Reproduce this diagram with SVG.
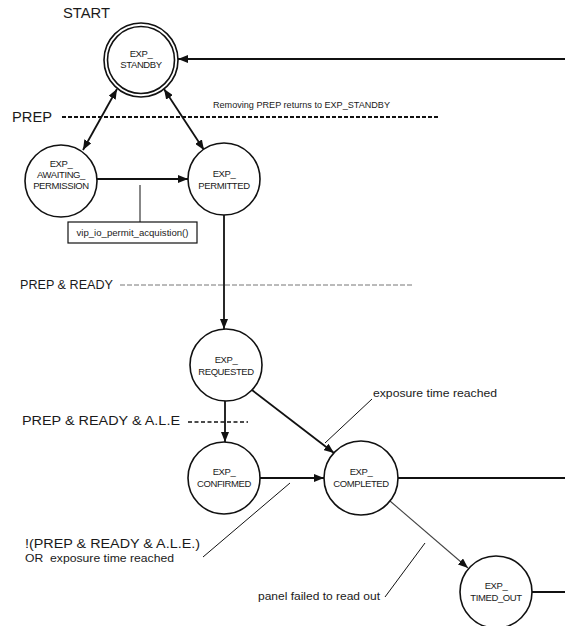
<svg xmlns="http://www.w3.org/2000/svg" width="565" height="626" viewBox="0 0 565 626">
<style>
text{font-family:"Liberation Sans",Arial,sans-serif;fill:#1a1a1a}
.lbl{font-size:12.5px}
.big{font-size:14px}
.sm{font-size:10px}
.node circle{fill:#fff;stroke:#111;stroke-width:1.6}
.node text{font-size:9.5px;text-anchor:middle;letter-spacing:-0.4px}
.edge{fill:none;stroke:#111;stroke-width:1.8}
.thin{fill:none;stroke:#111;stroke-width:1}
</style>
<defs>
<marker id="ah" markerUnits="userSpaceOnUse" markerWidth="10" markerHeight="8" refX="10" refY="4" orient="auto-start-reverse">
<path d="M0,0 L10,4 L0,8 z" fill="#111"/>
</marker>
</defs>
<rect width="565" height="626" fill="#fff"/>

<g id="guides">
<line x1="62" y1="117" x2="440" y2="117" stroke="#111" stroke-width="2" stroke-dasharray="4 2"/>
<line x1="120" y1="285" x2="413" y2="285" stroke="#777" stroke-width="1" stroke-dasharray="5 2"/>
<line x1="188" y1="422" x2="248" y2="422" stroke="#111" stroke-width="1.5" stroke-dasharray="4 2.5"/>
</g>

<g id="connectors">
<path class="edge" d="M565,59 L178,59" marker-end="url(#ah)"/>
<path class="edge" d="M117,89 L83,150" marker-start="url(#ah)" marker-end="url(#ah)"/>
<path class="edge" d="M164,89 L204,150" marker-start="url(#ah)" marker-end="url(#ah)"/>
<path class="edge" d="M97,179 L188,179" marker-end="url(#ah)"/>
<path class="edge" d="M224,215 L224,329" marker-end="url(#ah)"/>
<path class="edge" d="M225,401 L225,442" marker-end="url(#ah)"/>
<path class="edge" d="M252,390 L334,453" marker-end="url(#ah)"/>
<path class="edge" d="M260,478 L324,478" marker-end="url(#ah)"/>
<path class="edge" d="M398,478 L565,478"/>
<path d="M390,501 L468,568" fill="none" stroke="#444" stroke-width="1.1" marker-end="url(#ah)"/>
<path class="edge" d="M532,592 L565,592"/>
<path class="thin" d="M140,185 L140,222"/>
<path class="thin" d="M372,399 L325,443"/>
<path class="thin" d="M203,557 L290,483"/>
<path class="thin" d="M385,597 L425,543"/>
</g>

<g id="callout-box">
<rect x="68" y="222" width="129" height="21" fill="#fff" stroke="#111" stroke-width="1.2"/>
<text x="132.5" y="236" font-size="9" text-anchor="middle" textLength="112" lengthAdjust="spacingAndGlyphs">vip_io_permit_acquistion()</text>
</g>

<g id="EXP_STANDBY" class="node">
<circle cx="141" cy="60" r="37"/>
<circle cx="141" cy="60" r="33.5"/>
<text x="141" y="57">EXP_</text>
<text x="141" y="68">STANDBY</text>
</g>
<g id="EXP_AWAITING_PERMISSION" class="node">
<circle cx="61" cy="181" r="36"/>
<text x="61" y="167">EXP_</text>
<text x="61" y="178">AWAITING_</text>
<text x="61" y="189">PERMISSION</text>
</g>
<g id="EXP_PERMITTED" class="node">
<circle cx="224" cy="179" r="36"/>
<text x="224" y="177">EXP_</text>
<text x="224" y="189">PERMITTED</text>
</g>
<g id="EXP_REQUESTED" class="node">
<circle cx="226" cy="365" r="36"/>
<text x="226" y="363">EXP_</text>
<text x="226" y="375">REQUESTED</text>
</g>
<g id="EXP_CONFIRMED" class="node">
<circle cx="224" cy="478" r="36"/>
<text x="224" y="475">EXP_</text>
<text x="224" y="487">CONFIRMED</text>
</g>
<g id="EXP_COMPLETED" class="node">
<circle cx="361" cy="478" r="37"/>
<text x="361" y="475">EXP_</text>
<text x="361" y="487">COMPLETED</text>
</g>
<g id="EXP_TIMED_OUT" class="node">
<circle cx="496" cy="592" r="36"/>
<text x="496" y="589">EXP_</text>
<text x="496" y="601">TIMED_OUT</text>
</g>

<g id="labels">
<text class="big" x="63" y="18" textLength="47" lengthAdjust="spacingAndGlyphs">START</text>
<text class="big" x="12" y="122" textLength="40" lengthAdjust="spacingAndGlyphs">PREP</text>
<text x="213" y="108" font-size="9" textLength="177" lengthAdjust="spacingAndGlyphs">Removing PREP returns to EXP_STANDBY</text>
<text class="lbl" x="20" y="289" textLength="93" lengthAdjust="spacingAndGlyphs">PREP &amp; READY</text>
<text class="lbl" x="22" y="425" textLength="158" lengthAdjust="spacingAndGlyphs">PREP &amp; READY &amp; A.L.E</text>
<text class="sm" x="373" y="397" textLength="124" lengthAdjust="spacingAndGlyphs">exposure time reached</text>
<text class="lbl" x="25" y="548" textLength="175" lengthAdjust="spacingAndGlyphs">!(PREP &amp; READY &amp; A.L.E.)</text>
<text class="sm" x="25" y="562" textLength="149" lengthAdjust="spacingAndGlyphs" xml:space="preserve">OR  exposure time reached</text>
<text class="sm" x="258" y="600" textLength="122" lengthAdjust="spacingAndGlyphs">panel failed to read out</text>
</g>
</svg>
